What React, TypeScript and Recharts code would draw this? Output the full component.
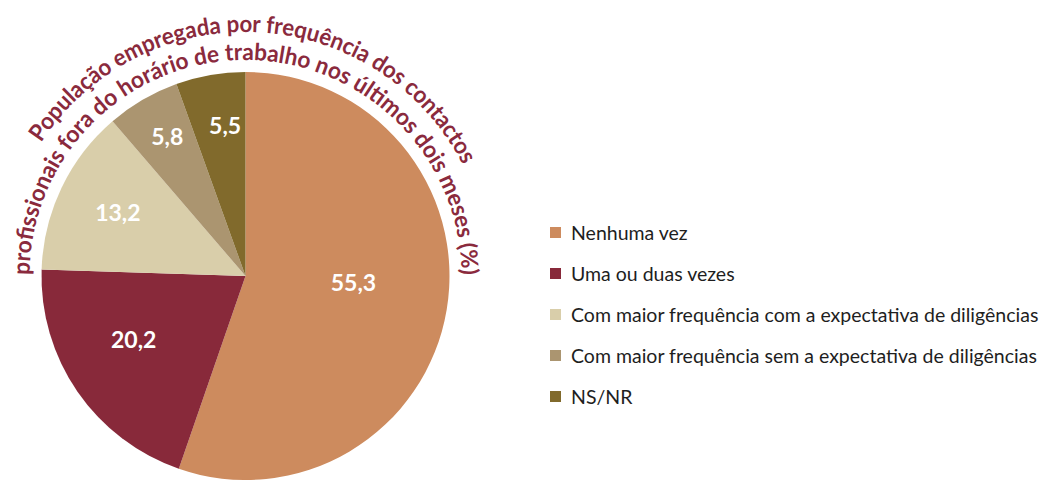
import React from 'react';
import { PieChart, Pie, Cell, Legend } from 'recharts';

const categories = [
  'Nenhuma vez',
  'Uma ou duas vezes',
  'Com maior frequência com a expectativa de diligências',
  'Com maior frequência sem a expectativa de diligências',
  'NS/NR',
];
const values = [55.3, 20.2, 13.2, 5.8, 5.5];
const colors = ['#CD8B5E', '#88293A', '#D9CEAA', '#AB9570', '#816A2C'];
const titleLines = [
  'População empregada por frequência dos contactos',
  'profissionais fora do horário de trabalho nos últimos dois meses (%)',
];

const data = categories.map((name, i) => ({ name, value: values[i] }));

// label placement (style): angle offset from slice middle and radius factor
const LABEL_ANGLE_OFFSET = [6.3, -5, -1.1, -1, -2.2];
const LABEL_RADIUS_FACTOR = [0.53, 0.63, 0.70, 0.785, 0.745];

const W = 1044;
const H = 484;
const CX = 245.5;
const CY = 276;
const R = 204;
const TITLE_COLOR = '#8A2A3D';
const RAD = Math.PI / 180;

const renderLabel = (props: any) => {
  const { cx, cy, midAngle, outerRadius, index, value } = props;
  const a = (midAngle + LABEL_ANGLE_OFFSET[index]) * RAD;
  const r = outerRadius * LABEL_RADIUS_FACTOR[index];
  const x = cx + r * Math.cos(a);
  const y = cy - r * Math.sin(a);
  return (
    <text
      x={x}
      y={y}
      fill="#FFFFFF"
      textAnchor="middle"
      dominantBaseline="central"
      style={{ fontFamily: 'Lato, sans-serif', fontWeight: 700, fontSize: 23 }}
    >
      {Number(value).toFixed(1).replace('.', ',')}
    </text>
  );
};

const renderLegend = () => (
  <div style={{ fontFamily: 'Lato, sans-serif', fontSize: 19.5, color: '#1E1E1E' }}>
    {categories.map((c, i) => (
      <div key={c} style={{ height: 41, display: 'flex', alignItems: 'center', whiteSpace: 'nowrap' }}>
        <span
          style={{
            display: 'inline-block',
            width: 11,
            height: 11,
            background: colors[i],
            marginRight: 10,
          }}
        />
        <span>{c}</span>
      </div>
    ))}
  </div>
);

const arcPath = (r: number) => {
  const a0 = 190 * RAD;
  const a1 = -10 * RAD;
  const x0 = CX + r * Math.cos(a0);
  const y0 = CY - r * Math.sin(a0);
  const x1 = CX + r * Math.cos(a1);
  const y1 = CY - r * Math.sin(a1);
  return `M ${x0} ${y0} A ${r} ${r} 0 1 1 ${x1} ${y1}`;
};

const OUTER_R = 244;
const INNER_R = 216;

export default function App() {
  return (
    <div style={{ position: 'absolute', left: 0, top: 0, width: W, height: H, background: '#fff' }}>
      <PieChart width={W} height={H} margin={{ top: 0, right: 0, bottom: 0, left: 0 }}>
        <Pie
          data={data}
          dataKey="value"
          nameKey="name"
          cx={CX}
          cy={CY}
          outerRadius={R}
          startAngle={90}
          endAngle={-270}
          stroke="none"
          labelLine={false}
          label={renderLabel}
          isAnimationActive={false}
        >
          {data.map((d, i) => (
            <Cell key={d.name} fill={colors[i]} />
          ))}
        </Pie>
        <Legend
          layout="vertical"
          align="right"
          verticalAlign="top"
          content={renderLegend}
          wrapperStyle={{ position: 'absolute', left: 550, top: 212, width: 494 }}
        />
      </PieChart>
      <svg
        width={W}
        height={H}
        style={{ position: 'absolute', left: 0, top: 0, pointerEvents: 'none' }}
      >
        <defs>
          <path id="titleArcOuter" d={arcPath(OUTER_R)} />
          <path id="titleArcInner" d={arcPath(INNER_R)} />
        </defs>
        <text
          fill={TITLE_COLOR}
          style={{ fontFamily: 'Lato, sans-serif', fontWeight: 700, fontSize: 23.5 }}
        >
          <textPath
            href="#titleArcOuter"
            startOffset="51.5%"
            textAnchor="middle"
            textLength={510}
            lengthAdjust="spacingAndGlyphs"
          >
            {titleLines[0]}
          </textPath>
        </text>
        <text
          fill={TITLE_COLOR}
          style={{ fontFamily: 'Lato, sans-serif', fontWeight: 700, fontSize: 23.5 }}
        >
          <textPath
            href="#titleArcInner"
            startOffset="50%"
            textAnchor="middle"
            textLength={676}
            lengthAdjust="spacingAndGlyphs"
          >
            {titleLines[1]}
          </textPath>
        </text>
      </svg>
    </div>
  );
}
